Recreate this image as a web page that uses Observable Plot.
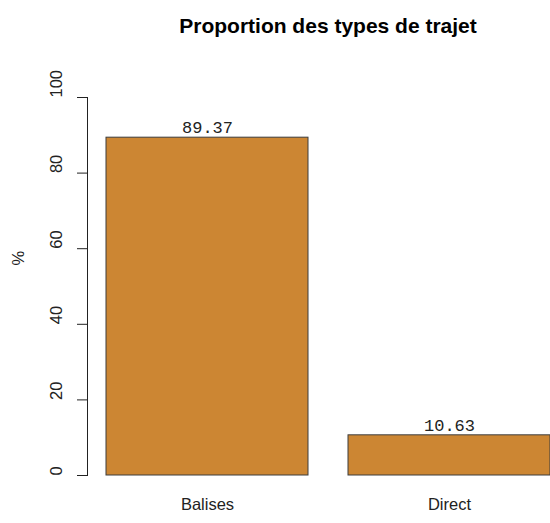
<!DOCTYPE html>
<html>
<head>
<meta charset="utf-8">
<script src="https://cdn.jsdelivr.net/npm/d3@7"></script>
<script src="https://cdn.jsdelivr.net/npm/@observablehq/plot@0.6"></script>
<style>
  html, body { margin: 0; padding: 0; background: #fff; }
  #chart svg { display: block; }
</style>
</head>
<body>
<div id="chart"></div>
<script>
const categories = ["Balises", "Direct"];
const values = [89.37, 10.63];
const valueLabels = ["89.37", "10.63"];
const yTicks = [0, 20, 40, 60, 80, 100];
const title = "Proportion des types de trajet";
const yLabel = "%";

const data = categories.map((c, i) => ({cat: c, value: values[i], label: valueLabels[i]}));

const W = 550, H = 523;
const sans = "'Liberation Sans', Arial, sans-serif";
const mono = "'Liberation Mono', 'Courier New', monospace";

const chart = Plot.plot({
  width: W,
  height: H,
  marginLeft: 87,
  marginRight: 0,
  marginTop: 97,
  marginBottom: 48,
  style: {fontFamily: sans, background: "#fff", color: "#222"},
  x: {domain: categories, range: [105.7, 549.5], paddingInner: 1/6, paddingOuter: 0, axis: null},
  y: {domain: [0, 100], axis: null},
  marks: [
    Plot.barY(data, {x: "cat", y: "value", fill: "#CC8633", stroke: "#3d3d3d", strokeWidth: 1}),
    Plot.frame({anchor: "left", stroke: "#222"}),
    Plot.axisY(yTicks, {tickSize: 10, tickFormat: () => "", label: null, stroke: "#222"}),
    Plot.text(yTicks, {y: d => d, frameAnchor: "left", dx: -31, rotate: -90, text: d => String(d), fontSize: 16.5, fill: "#222"}),
    Plot.text([yLabel], {frameAnchor: "left", dx: -69, dy: -21, rotate: -90, text: d => d, fontSize: 16.5, fill: "#222"}),
    Plot.text(data, {x: "cat", y: "value", text: "label", dy: -10, fontFamily: mono, fontSize: 17, fill: "#222"}),
    Plot.text(categories, {x: d => d, frameAnchor: "bottom", dy: 34, text: d => d, fontSize: 16.5, fill: "#222"}),
    Plot.text([title], {frameAnchor: "top", dx: 9, dy: -79, text: d => d, fontSize: 21, fontWeight: "bold", fill: "#000"})
  ]
});
document.getElementById("chart").appendChild(chart);
</script>
</body>
</html>
